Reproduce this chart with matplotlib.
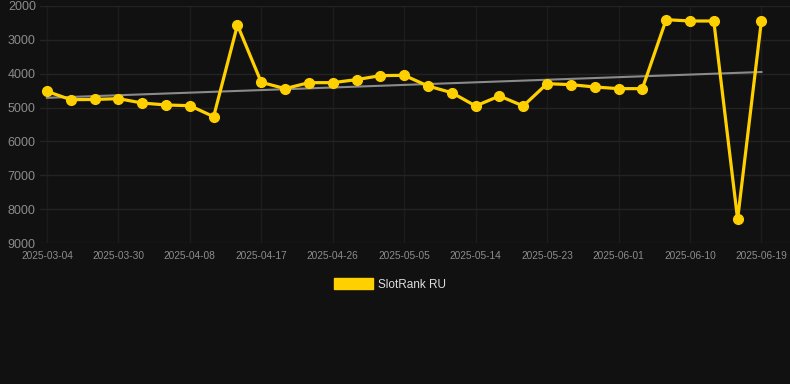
import numpy as np
import matplotlib
matplotlib.use("Agg")
import matplotlib.pyplot as plt
from matplotlib.patches import Patch

# ── Data ───────────────────────────────────────────────────────────────────────
dates = [
    "2025-03-04", "2025-03-24", "2025-03-27", "2025-03-30", "2025-04-02",
    "2025-04-05", "2025-04-08", "2025-04-11", "2025-04-14", "2025-04-17",
    "2025-04-20", "2025-04-23", "2025-04-26", "2025-04-29", "2025-05-02",
    "2025-05-05", "2025-05-08", "2025-05-11", "2025-05-14", "2025-05-17",
    "2025-05-20", "2025-05-23", "2025-05-26", "2025-05-29", "2025-06-01",
    "2025-06-04", "2025-06-07", "2025-06-10", "2025-06-13", "2025-06-16",
    "2025-06-19",
]
rank = [
    4520, 4767, 4760, 4737, 4865, 4924, 4944, 5268, 2561, 4254,
    4441, 4264, 4264, 4175, 4057, 4047, 4363, 4560, 4953, 4658,
    4953, 4294, 4323, 4392, 4441, 4441, 2404, 2443, 2443, 8300,
    2434,
]
y_ticks = [2000, 3000, 4000, 5000, 6000, 7000, 8000, 9000]
series_name = "SlotRank RU"

BG     = "#111111"
GRID_H = "#232323"
GRID_V = "#1c1c1c"
YELLOW = "#ffd000"
TREND  = "#8a8a8a"
TICK   = "#8c8c8c"

x = np.arange(len(dates))
slope, intercept = np.polyfit(x, rank, 1)
trend = slope * x + intercept

fig = plt.figure(figsize=(7.9, 3.84), dpi=100)
fig.patch.set_facecolor(BG)
ax = fig.add_axes([40 / 790, 1 - 243 / 384, 750 / 790, 237 / 384])
ax.set_facecolor(BG)

ax.plot(x, trend, color=TREND, linewidth=1.5, zorder=2)
ax.plot(x, rank, color=YELLOW, linewidth=2.3, marker="o", markersize=7,
        zorder=3, clip_on=False)

ax.set_ylim(9000, 2000)
ax.set_xlim(-0.29, 31.2)
ax.set_yticks(y_ticks)
ax.set_yticklabels([str(v) for v in y_ticks], fontsize=9, color=TICK,
                   family="Liberation Sans")
ax.set_xticks(x[::3])
ax.set_xticklabels(dates[::3], fontsize=7.3, color=TICK, family="Liberation Sans")
ax.tick_params(axis="both", length=0)
ax.tick_params(axis="y", pad=3)
ax.tick_params(axis="x", pad=6)

ax.yaxis.grid(True, color=GRID_H, linewidth=1)
ax.xaxis.grid(True, color=GRID_V, linewidth=1)
ax.set_axisbelow(True)
for spine in ax.spines.values():
    spine.set_visible(False)

handle = Patch(facecolor=YELLOW, edgecolor=YELLOW)
leg = fig.legend([handle], [series_name], loc="center",
                 bbox_to_anchor=(390 / 790, 1 - 284.5 / 384),
                 frameon=False, handlelength=3.3, handleheight=1.0, handletextpad=0.5,
                 prop={"family": "Liberation Sans", "size": 8.5})
for t in leg.get_texts():
    t.set_color("#dddddd")

fig.savefig("out.png", dpi=100, facecolor=BG)
